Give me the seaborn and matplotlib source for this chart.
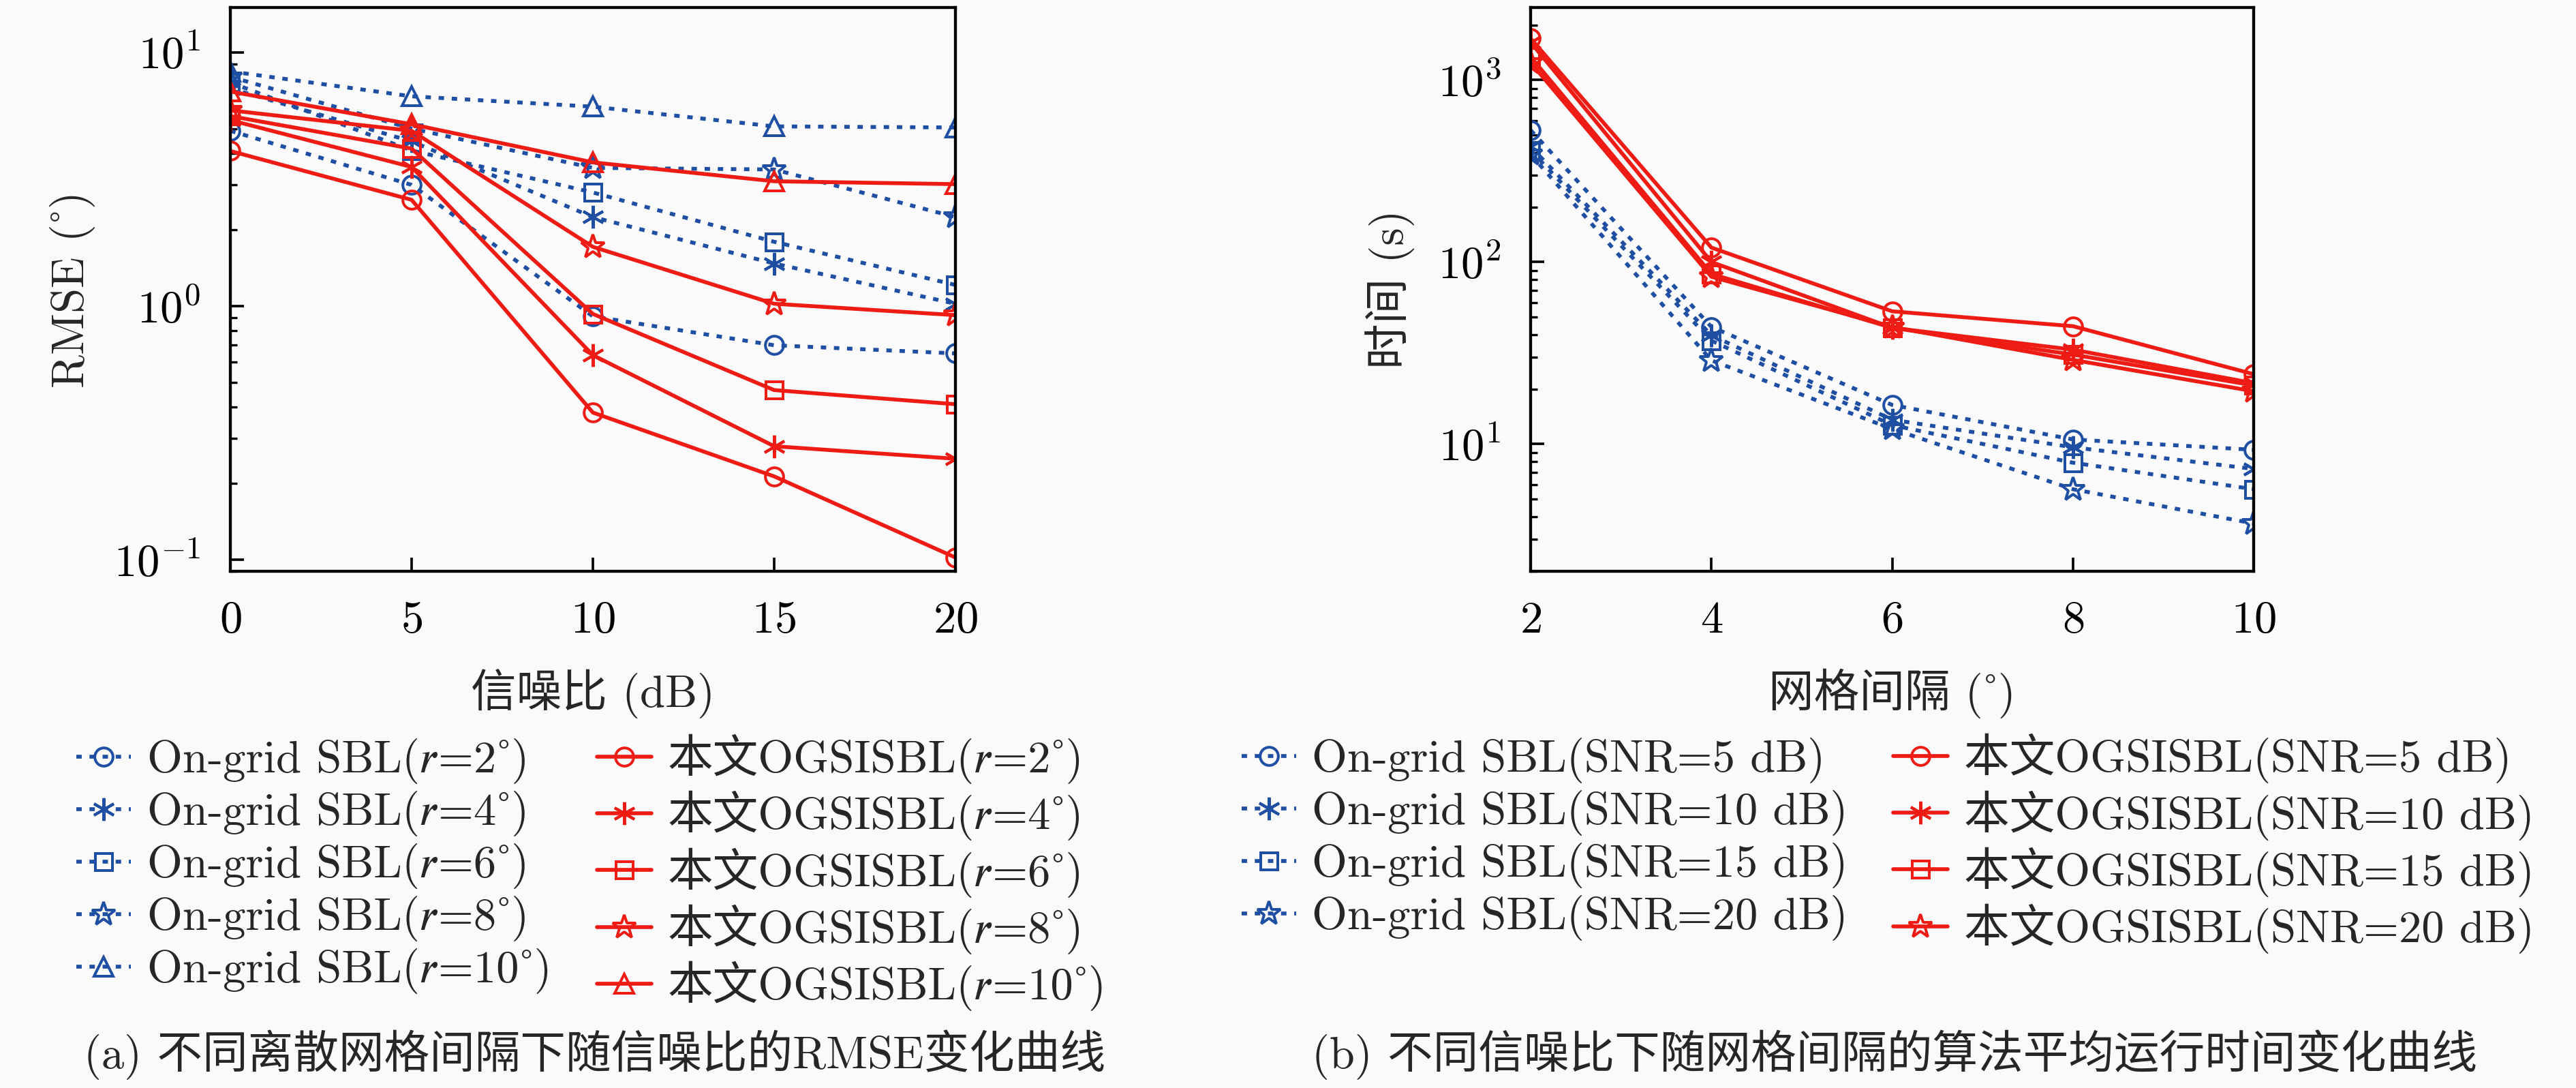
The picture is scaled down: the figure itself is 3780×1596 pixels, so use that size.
import seaborn as sns
import matplotlib.pyplot as plt
import numpy as np

# ---- data ----
snr = [0, 5, 10, 15, 20]
grid_r = [2, 4, 6, 8, 10]

# RMSE (deg) vs SNR, one list per grid interval r
rmse_sbl_r2 = [4.9, 3.0, 0.91, 0.70, 0.65]
rmse_sbl_r4 = [7.2, 4.45, 2.24, 1.47, 1.02]
rmse_sbl_r6 = [7.6, 4.1, 2.8, 1.79, 1.21]
rmse_sbl_r8 = [8.0, 5.0, 3.5, 3.45, 2.24]
rmse_sbl_r10 = [8.4, 6.7, 6.1, 5.1, 5.05]

rmse_ogs_r2 = [4.08, 2.62, 0.38, 0.213, 0.102]
rmse_ogs_r4 = [5.4, 3.53, 0.64, 0.28, 0.25]
rmse_ogs_r6 = [5.6, 4.17, 0.93, 0.466, 0.41]
rmse_ogs_r8 = [5.9, 4.9, 1.71, 1.02, 0.92]
rmse_ogs_r10 = [7.0, 5.2, 3.68, 3.1, 3.02]

# run time (s) vs grid interval, one list per SNR
spacing = [2, 4, 6, 8, 10]
snr_lvls = [5, 10, 15, 20]

time_sbl_5 = [530, 44, 16.4, 10.6, 9.3]
time_sbl_10 = [430, 39.6, 13.6, 9.6, 7.3]
time_sbl_15 = [410, 37, 12.7, 7.9, 5.65]
time_sbl_20 = [390, 28.8, 12.1, 5.65, 3.66]

time_ogs_5 = [1690, 120, 53.6, 44.4, 24.2]
time_ogs_10 = [1610, 100, 43.5, 33, 21.6]
time_ogs_15 = [1340, 86, 43.5, 31, 21]
time_ogs_20 = [1245, 83, 44, 29, 19.5]

rmse_sbl = [rmse_sbl_r2, rmse_sbl_r4, rmse_sbl_r6, rmse_sbl_r8, rmse_sbl_r10]
rmse_ogs = [rmse_ogs_r2, rmse_ogs_r4, rmse_ogs_r6, rmse_ogs_r8, rmse_ogs_r10]
time_sbl = [time_sbl_5, time_sbl_10, time_sbl_15, time_sbl_20]
time_ogs = [time_ogs_5, time_ogs_10, time_ogs_15, time_ogs_20]

# ---- style ----
sns.set_theme(style='ticks')
# cmr10 for latin, CJK fallback for chinese, STIX for the italic r
plt.rcParams['font.family'] = ['cmr10', 'Noto Sans CJK SC', 'STIXGeneral', 'DejaVu Sans']
plt.rcParams['mathtext.fontset'] = 'cm'
plt.rcParams['axes.formatter.use_mathtext'] = True
plt.rcParams['axes.unicode_minus'] = False

BLUE = '#1f4fa3'
RED = '#ee1c14'
BG = '#fafafa'
FS = 20
R_IT = '\U0001D45F'  # math italic r
DEG = '\u02DA'       # cmr10 maps U+00B0 to a ligature, so use ring above

markers = ['o', (6, 2, 0), 's', '*', '^']
msizes = [8, 10, 7.5, 11, 8.5]
dotted = (0, (1.4, 2.0))


def style_axes(ax):
    ax.set_facecolor(BG)
    for s in ax.spines.values():
        s.set_linewidth(1.3)
        s.set_color('black')
    ax.tick_params(which='both', direction='in', top=False, right=False,
                   labelsize=FS, pad=13, colors='black')
    ax.tick_params(which='major', length=6, width=1.1)
    ax.tick_params(which='minor', length=3, width=1.0)


def draw(ax, x, y, color, mk, ms, ls, label):
    sns.lineplot(x=x, y=y, ax=ax, color=color, marker=mk, markersize=ms,
                 linestyle=ls, linewidth=1.7, markerfacecolor='none',
                 markeredgecolor=color, markeredgewidth=1.2, label=label,
                 legend=False)


fig = plt.figure(figsize=(15.75, 6.65), dpi=240, facecolor=BG)
ax1 = fig.add_axes([0.0894, 0.4749, 0.2815, 0.5182])
ax2 = fig.add_axes([0.5942, 0.4749, 0.2807, 0.5182])

# ---- (a) RMSE vs SNR ----
h_blue, h_red = [], []
for i, r in enumerate(grid_r):
    draw(ax1, snr, rmse_sbl[i], BLUE, markers[i], msizes[i], dotted,
         'On-grid SBL(' + R_IT + '=' + str(r) + DEG + ')')
    h_blue.append(ax1.get_lines()[-1])
for i, r in enumerate(grid_r):
    draw(ax1, snr, rmse_ogs[i], RED, markers[i], msizes[i], '-',
         '本文OGSISBL(' + R_IT + '=' + str(r) + DEG + ')')
    h_red.append(ax1.get_lines()[-1])

ax1.set_yscale('log')
ax1.set_xlim(0, 20)
ax1.set_ylim(0.09, 15)
ax1.set_xticks([0, 5, 10, 15, 20])
style_axes(ax1)
ax1.set_xlabel('信噪比 (dB)', fontsize=FS, labelpad=12)
ax1.set_ylabel('RMSE (' + DEG + ')', fontsize=FS, labelpad=8)

hs = h_blue + h_red
fig.legend(handles=hs, labels=[h.get_label() for h in hs], ncol=2,
           loc='center', bbox_to_anchor=(0.2296, 0.198), frameon=False,
           fontsize=FS, numpoints=1, handlelength=1.2, handletextpad=0.35,
           columnspacing=1.0, labelspacing=0.15, borderpad=0)

# ---- (b) time vs grid spacing ----
h_blue, h_red = [], []
for i, s in enumerate(snr_lvls):
    draw(ax2, spacing, time_sbl[i], BLUE, markers[i], msizes[i], dotted,
         'On-grid SBL(SNR=' + str(s) + ' dB)')
    h_blue.append(ax2.get_lines()[-1])
for i, s in enumerate(snr_lvls):
    draw(ax2, spacing, time_ogs[i], RED, markers[i], msizes[i], '-',
         '本文OGSISBL(SNR=' + str(s) + ' dB)')
    h_red.append(ax2.get_lines()[-1])

ax2.set_yscale('log')
ax2.set_xlim(2, 10)
ax2.set_ylim(2, 2500)
ax2.set_xticks([2, 4, 6, 8, 10])
style_axes(ax2)
ax2.set_xlabel('网格间隔 (' + DEG + ')', fontsize=FS, labelpad=12)
ax2.set_ylabel('时间 (s)', fontsize=FS, labelpad=10)

hs = h_blue + h_red
fig.legend(handles=hs, labels=[h.get_label() for h in hs], ncol=2,
           loc='center', bbox_to_anchor=(0.7328, 0.2246), frameon=False,
           fontsize=FS, numpoints=1, handlelength=1.2, handletextpad=0.35,
           columnspacing=1.0, labelspacing=0.15, borderpad=0)

# captions
fig.text(873 / 3780, 1 - 1547 / 1596, '(a) 不同离散网格间隔下随信噪比的RMSE变化曲线',
         ha='center', va='center', fontsize=FS)
fig.text(2780 / 3780, 1 - 1547 / 1596, '(b) 不同信噪比下随网格间隔的算法平均运行时间变化曲线',
         ha='center', va='center', fontsize=FS)

fig.savefig('out.png', dpi=240, facecolor=BG)
